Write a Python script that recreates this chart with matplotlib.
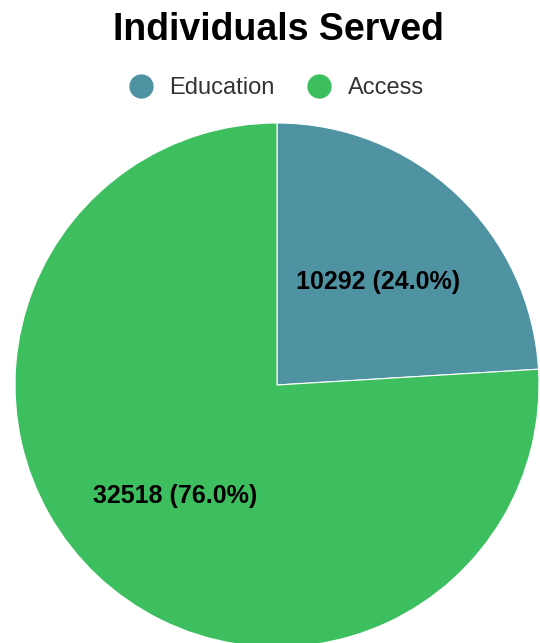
import matplotlib.pyplot as plt
from matplotlib.lines import Line2D

plt.rcParams['font.family'] = ['Liberation Sans', 'DejaVu Sans']

labels = ['Education', 'Access']
values = [10292, 32518]
colors = ['#4F93A3', '#3DBE5F']

fig = plt.figure(figsize=(5.4, 6.43), dpi=100)
ax = fig.add_axes([0, 0, 1, 1])

total = sum(values)


def fmt(pct):
    v = int(round(pct * total / 100.0))
    return '%d (%.1f%%)' % (v, pct)


wedges, texts, autotexts = ax.pie(values, colors=colors, startangle=90, counterclock=False,
                                  center=(277, 258), radius=262, autopct=fmt, pctdistance=0.565,
                                  wedgeprops=dict(edgecolor='white', linewidth=0.8),
                                  frame=True)
ax.set_xlim(0, 540)
ax.set_ylim(0, 643)
ax.set_aspect('equal')
ax.axis('off')
for t in autotexts:
    t.set_fontsize(18)
    t.set_fontweight('bold')
    t.set_color('black')
# nudge labels a bit to match
autotexts[0].set_y(autotexts[0].get_position()[1] - 5)
autotexts[1].set_y(autotexts[1].get_position()[1] - 3)

fig.text(0.515, 0.953, 'Individuals Served', ha='center', va='center', fontsize=27, fontweight='bold')

handles = [Line2D([], [], marker='o', linestyle='', markersize=16.5, color=c) for c in colors]
fig.legend(handles, labels, loc='center', bbox_to_anchor=(0.512, 0.863), ncol=2, frameon=False,
           fontsize=17, handlelength=1.0, handletextpad=0.69, columnspacing=1.4,
           labelcolor='#333333', borderpad=0, borderaxespad=0)

fig.savefig('out.png', dpi=100)
